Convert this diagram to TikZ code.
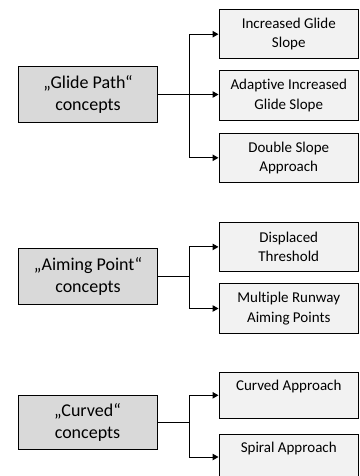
\documentclass[tikz,border=0pt]{standalone}
\usepackage{fontspec}
\setmainfont{Carlito}[Ligatures={NoCommon}]
\usetikzlibrary{arrows.meta}
\definecolor{lfill}{HTML}{D9D9D9}
\definecolor{rfill}{HTML}{F2F2F2}
\tikzset{
  lbox/.style={draw=black, fill=lfill, line width=1pt, minimum width=139pt, minimum height=56pt, inner sep=0pt, align=center, font=\fontsize{18}{22}\selectfont},
  rbox/.style={draw=black, fill=rfill, line width=1pt, minimum width=139.5pt, minimum height=49.5pt, inner sep=0pt, align=center, font=\fontsize{15}{19.5}\selectfont},
  conn/.style={line width=1pt, draw=black},
  arr/.style={conn, -{Triangle[length=6pt,width=6.5pt]}}
}
\begin{document}
\begin{tikzpicture}[x=1pt,y=1pt]
\useasboundingbox (0,0) rectangle (359,-476);
\clip (0,0) rectangle (359,-476);
% group 1
\node[lbox] (L1) at (88,-94.5) {„Glide Path“\\concepts};
\node[rbox] (R1) at (288.75,-34.2) {Increased Glide\\Slope};
\node[rbox] (R2) at (288.75,-95.4) {Adaptive Increased\\Glide Slope};
\node[rbox] (R3) at (288.75,-157.8) {Double Slope\\Approach};
\coordinate (J1) at (189,-94.5);
\draw[conn] (L1.east) -- (J1);
\draw[arr] (J1) |- (R1.west);
\draw[arr] (J1) -- (R2.west|-J1);
\draw[arr] (J1) |- (R3.west);
% group 2
\node[lbox] (L2) at (88,-276.5) {„Aiming Point“\\concepts};
\node[rbox] (R4) at (288.75,-246.9) {Displaced\\Threshold};
\node[rbox] (R5) at (288.75,-308.5) {Multiple Runway\\Aiming Points};
\coordinate (J2) at (189,-276.5);
\draw[conn] (L2.east) -- (J2);
\draw[arr] (J2) |- (R4.west);
\draw[arr] (J2) |- (R5.west);
% group 3
\node[lbox, minimum width=139pt, minimum height=54pt] (L3) at (87.5,-422) {„Curved“\\concepts};
\node[rbox, minimum height=45.5pt] (R6) at (288.75,-395.3) {Curved Approach\\~};
\node[rbox, minimum height=45.5pt] (R7) at (288.75,-457) {Spiral Approach\\~};
\coordinate (J3) at (189,-422);
\draw[conn] (L3.east) -- (J3);
\draw[arr] (J3) |- (R6.west);
\draw[arr] (J3) |- (R7.west);
\end{tikzpicture}
\end{document}
